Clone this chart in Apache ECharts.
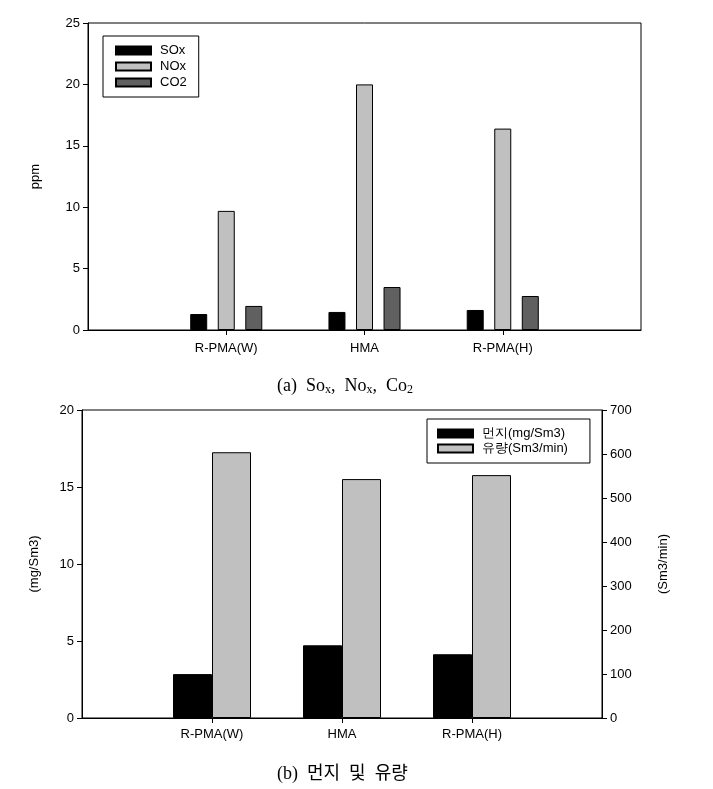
<!DOCTYPE html>
<html>
<head>
<meta charset="utf-8">
<script src="https://cdn.jsdelivr.net/npm/echarts@6/dist/echarts.min.js"></script>
<style>
html,body{margin:0;padding:0;background:#fff;}
#c{width:713px;height:789px;}
</style>
</head>
<body>
<div id="c"></div>
<script>
// ---- data ----
const categories = ['R-PMA(W)', 'HMA', 'R-PMA(H)'];
const soxValues = [1.3, 1.47, 1.63];
const noxValues = [9.7, 20.0, 16.4];
const co2Values = [1.96, 3.5, 2.77];
const dustValues = [2.85, 4.72, 4.14];        // mg/Sm3
const flowValues = [604, 543, 552];           // Sm3/min
const ppmTicks = {min: 0, max: 25, interval: 5};
const dustTicks = {min: 0, max: 20, interval: 5};
const flowTicks = {min: 0, max: 700, interval: 100};

// padded categories: empty slot at each end
const padCats = [''].concat(categories, ['']);
const pad = arr => ['-'].concat(arr, ['-']);

const FONT = '"Liberation Sans", Arial, sans-serif';
const SERIF = '"Liberation Serif", "Times New Roman", "Noto Sans CJK KR", serif';
const lbl = {color: '#000', fontFamily: FONT, fontSize: 13};

function xAxisCfg(gridIndex, margin) {
  return {
    type: 'category', gridIndex: gridIndex, data: padCats, boundaryGap: false,
    axisLine: {lineStyle: {color: '#000', width: 1}},
    axisTick: {length: 5, lineStyle: {color: '#000'}, interval: (i, v) => v !== ''},
    axisLabel: Object.assign({interval: 0, margin: margin}, lbl),
    splitLine: {show: false}
  };
}
function yAxisCfg(gridIndex, t, name, pos, gap) {
  return {
    type: 'value', gridIndex: gridIndex, position: pos, min: t.min, max: t.max, interval: t.interval,
    name: name, nameLocation: 'middle', nameGap: gap, nameRotate: 90,
    nameTextStyle: {color: '#000', fontFamily: FONT, fontSize: 13},
    axisLine: {show: true, lineStyle: {color: '#000', width: 1}},
    axisTick: {show: true, length: 5, lineStyle: {color: '#000'}},
    axisLabel: Object.assign({margin: 8}, lbl),
    splitLine: {show: false}
  };
}
const barBorder = {borderColor: '#000', borderWidth: 1};

const chart = echarts.init(document.getElementById('c'));
chart.setOption({
  animation: false,
  backgroundColor: '#fff',
  title: [
    {text: '(a)  So{s|x},  No{s|x},  Co{s|2}', left: 272, top: 372,
     textStyle: {fontFamily: SERIF, fontWeight: 'normal', fontSize: 18, color: '#000',
       rich: {s: {fontFamily: SERIF, fontSize: 12, color: '#000', verticalAlign: 'bottom', padding: [7, 0, 0, 0]}}}},
    {text: '(b)  먼지  및  유량', left: 272, top: 760,
     textStyle: {fontFamily: SERIF, fontWeight: 'normal', fontSize: 18, color: '#000'}}
  ],
  grid: [
    {left: 88, right: 72, top: 23, bottom: 459, show: true, borderColor: '#000', borderWidth: 1},
    {left: 82, right: 111, top: 410, bottom: 71, show: true, borderColor: '#000', borderWidth: 1}
  ],
  legend: [
    {data: ['SOx', 'NOx', 'CO2'], orient: 'vertical', left: 103, top: 36, icon: 'rect',
     padding: [8, 12, 8, 12], itemGap: 3, itemWidth: 35, itemHeight: 8,
     borderColor: '#000', borderWidth: 1, textStyle: {fontFamily: FONT, fontSize: 13, color: '#000', padding: [0, 0, 0, 4]}},
    {data: ['먼지(mg/Sm3)', '유량(Sm3/min)'], orient: 'vertical', left: 427, top: 419, icon: 'rect',
     padding: [8, 22, 8, 10], itemGap: 2, itemWidth: 35, itemHeight: 8,
     borderColor: '#000', borderWidth: 1, textStyle: {fontFamily: FONT, fontSize: 13, color: '#000', padding: [0, 0, 0, 4]}}
  ],
  xAxis: [xAxisCfg(0, 12), xAxisCfg(1, 10)],
  yAxis: [
    yAxisCfg(0, ppmTicks, 'ppm', 'left', 46),
    yAxisCfg(1, dustTicks, '(mg/Sm3)', 'left', 41),
    yAxisCfg(1, flowTicks, '(Sm3/min)', 'right', 55)
  ],
  series: [
    {name: 'SOx', type: 'bar', xAxisIndex: 0, yAxisIndex: 0, data: pad(soxValues), barWidth: 17, barGap: '62%',
     itemStyle: Object.assign({color: '#000'}, barBorder)},
    {name: 'NOx', type: 'bar', xAxisIndex: 0, yAxisIndex: 0, data: pad(noxValues), barWidth: 17, barGap: '62%',
     itemStyle: Object.assign({color: '#c0c0c0'}, barBorder)},
    {name: 'CO2', type: 'bar', xAxisIndex: 0, yAxisIndex: 0, data: pad(co2Values), barWidth: 17, barGap: '62%',
     itemStyle: Object.assign({color: '#606060'}, barBorder)},
    {name: '먼지(mg/Sm3)', type: 'bar', xAxisIndex: 1, yAxisIndex: 1, data: pad(dustValues), barWidth: 39, barGap: '0%',
     itemStyle: Object.assign({color: '#000'}, barBorder)},
    {name: '유량(Sm3/min)', type: 'bar', xAxisIndex: 1, yAxisIndex: 2, data: pad(flowValues), barWidth: 39, barGap: '0%',
     itemStyle: Object.assign({color: '#c0c0c0'}, barBorder)}
  ]
});
</script>
</body>
</html>
